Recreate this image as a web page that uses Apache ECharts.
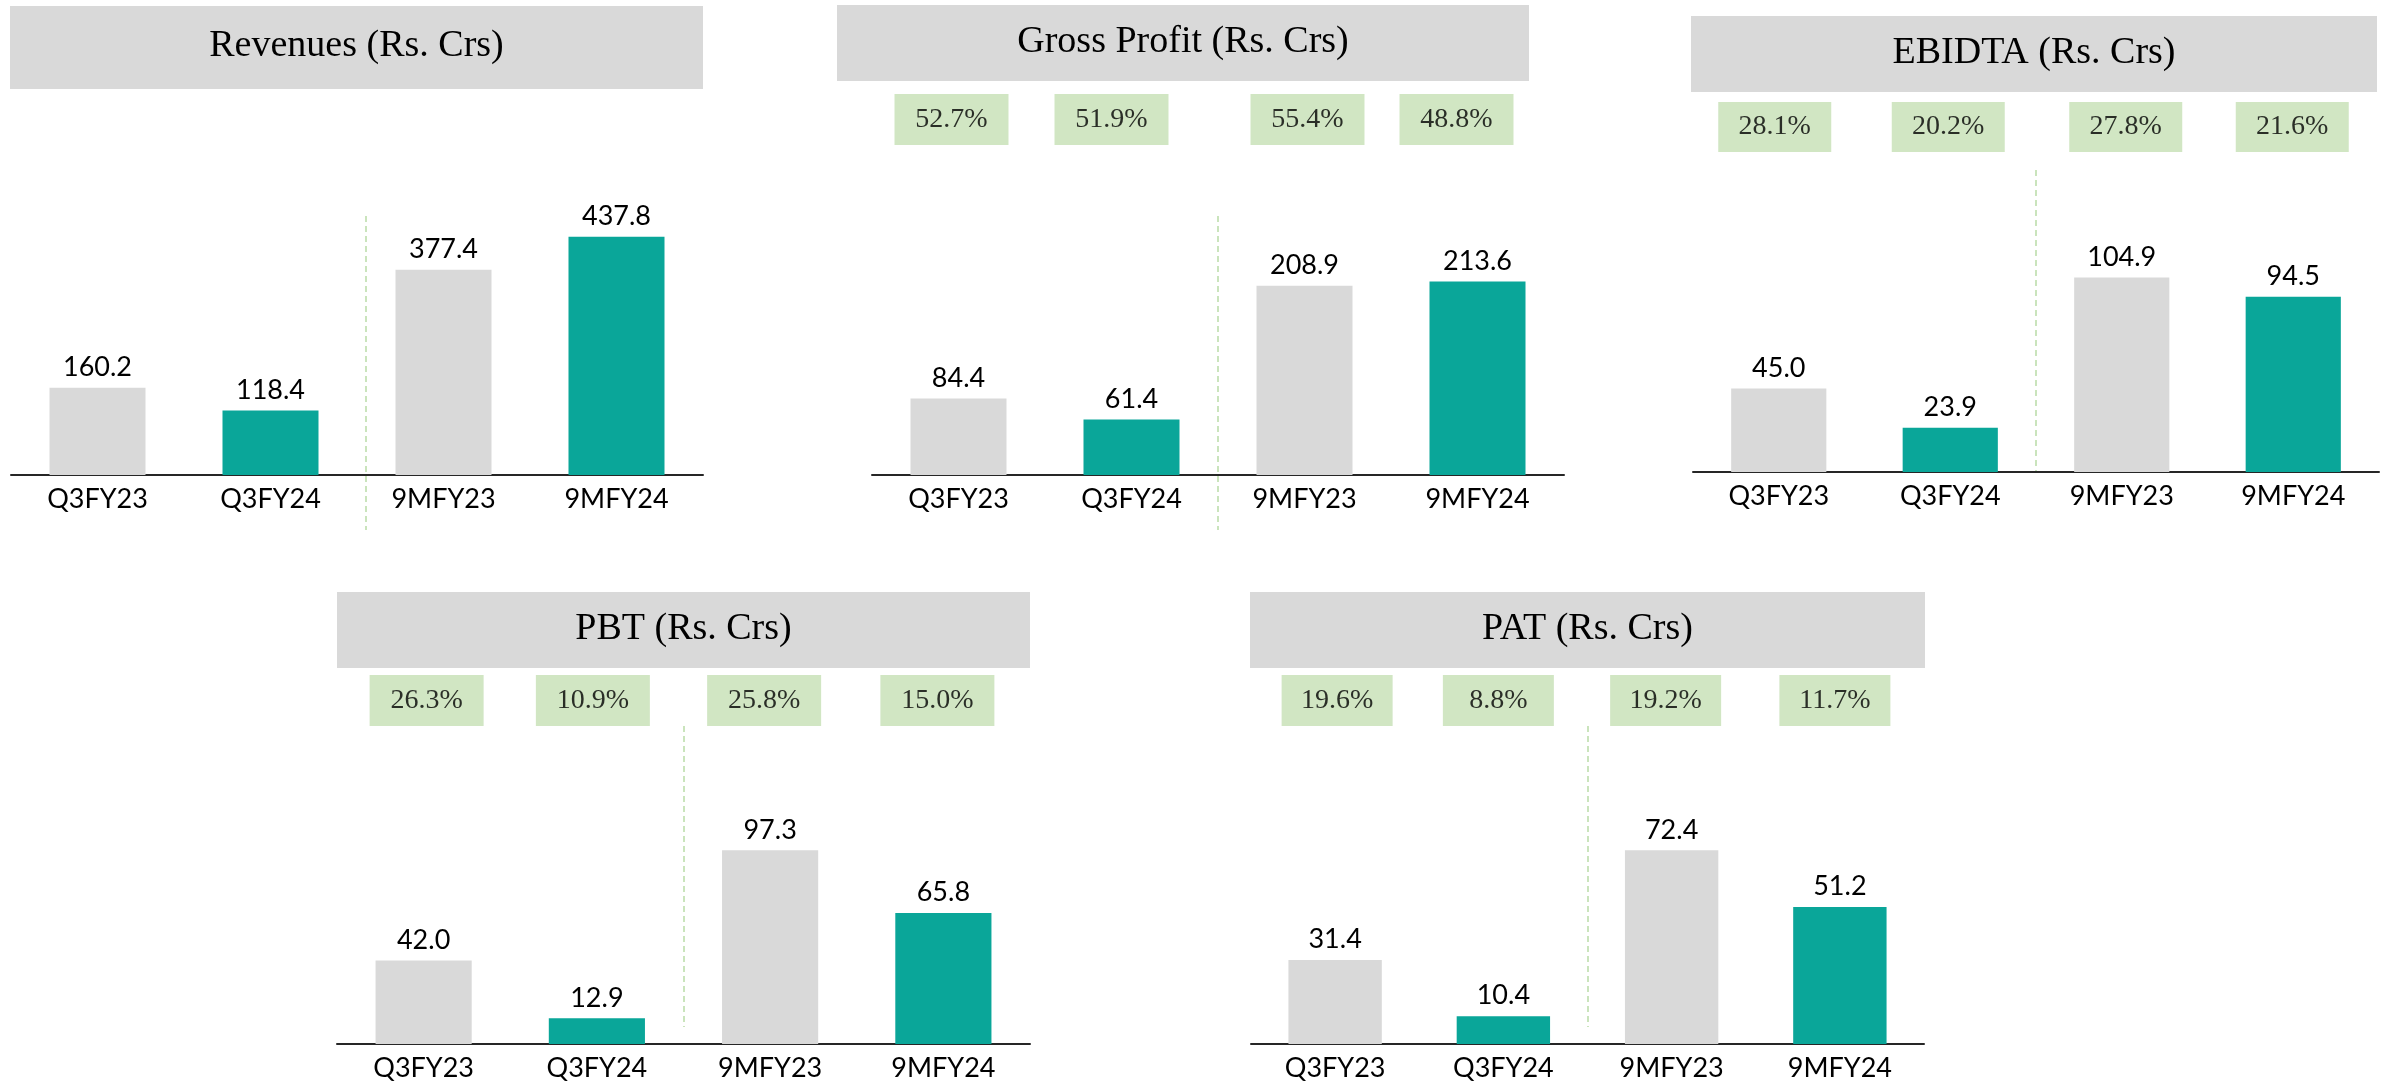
<!DOCTYPE html>
<html>
<head>
<meta charset="utf-8">
<script src="https://cdn.jsdelivr.net/npm/echarts@6.0.0/dist/echarts.min.js"></script>
<style>
html,body{margin:0;padding:0;background:#ffffff;}
#chart{width:2407px;height:1084px;}
</style>
</head>
<body>
<div id="chart"></div>
<script>
// ---------- data ----------
const categories = ['Q3FY23', 'Q3FY24', '9MFY23', '9MFY24'];
const titles = ['Revenues (Rs. Crs)', 'Gross Profit (Rs. Crs)', 'EBIDTA (Rs. Crs)', 'PBT (Rs. Crs)', 'PAT (Rs. Crs)'];
const revenues = [160.2, 118.4, 377.4, 437.8];
const grossProfit = [84.4, 61.4, 208.9, 213.6];
const ebitda = [45.0, 23.9, 104.9, 94.5];
const pbt = [42.0, 12.9, 97.3, 65.8];
const pat = [31.4, 10.4, 72.4, 51.2];
const grossMargin = ['52.7%', '51.9%', '55.4%', '48.8%'];
const ebitdaMargin = ['28.1%', '20.2%', '27.8%', '21.6%'];
const pbtMargin = ['26.3%', '10.9%', '25.8%', '15.0%'];
const patMargin = ['19.6%', '8.8%', '19.2%', '11.7%'];

// ---------- styles ----------
const GRAY = '#d9d9d9';
const TEAL = '#0aa699';
const PCT_BG = '#c5e0b4';
const DIVIDER = '#b9dca6';
const SANS = 'Lato';
const SERIF = '"Liberation Serif"';

// ---------- layout (pixels) ----------
const panels = [
  { title: titles[0], values: revenues, margins: null,
    left: 11, width: 692, top: 216, axisY: 475, yMax: 476,
    divTop: 216, divBottom: 530, divShift: 9, box: [10, 6, 693, 83] },
  { title: titles[1], values: grossProfit, margins: grossMargin,
    left: 872, width: 692, top: 216, axisY: 475, yMax: 286,
    divTop: 216, divBottom: 530, divShift: 0, box: [837, 5, 692, 76],
    pctTop: 94, pctH: 51, pctW: 114, pctShift: [-7, -20, 3, -21] },
  { title: titles[2], values: ebitda, margins: ebitdaMargin,
    left: 1693, width: 686, top: 170, axisY: 472, yMax: 162.8,
    divTop: 170, divBottom: 472, divShift: 0, box: [1691, 16, 686, 76],
    pctTop: 102, pctH: 50, pctW: 113, pctShift: [-4, -2, 4, -1] },
  { title: titles[3], values: pbt, margins: pbtMargin,
    left: 337, width: 693, top: 726, axisY: 1044, yMax: 159.8,
    divTop: 726, divBottom: 1027, divShift: 0, box: [337, 592, 693, 76],
    pctTop: 675, pctH: 51, pctW: 114, pctShift: [3, -4, -6, -6] },
  { title: titles[4], values: pat, margins: patMargin,
    left: 1251, width: 673, top: 726, axisY: 1044, yMax: 118.9,
    divTop: 726, divBottom: 1027, divShift: 0, box: [1250, 592, 675, 76],
    pctTop: 675, pctH: 51, pctW: 111, pctShift: [2, -5, -6, -5] }
];

const grid = [], xAxis = [], yAxis = [], series = [], graphic = [];

panels.forEach(function (p) {
  // title box
  graphic.push({
    type: 'rect', z: 1,
    shape: { x: p.box[0], y: p.box[1], width: p.box[2], height: p.box[3] },
    style: { fill: GRAY }
  });
  graphic.push({
    type: 'text', z: 2,
    x: p.box[0] + p.box[2] / 2, y: p.box[1] + p.box[3] / 2 - 1,
    style: { text: p.title, font: '38px ' + SERIF, fill: '#000000',
             textAlign: 'center', textVerticalAlign: 'middle' }
  });

  // main bar grid
  let gi = grid.length;
  grid.push({ left: p.left, top: p.top, width: p.width, height: p.axisY - p.top });
  xAxis.push({
    gridIndex: gi, type: 'category', data: categories,
    axisLine: { show: true, lineStyle: { color: '#262626', width: 2 } },
    axisTick: { show: false },
    axisLabel: { fontFamily: SANS, fontSize: 27, color: '#000000', margin: 11 },
    splitLine: { show: false }
  });
  yAxis.push({ gridIndex: gi, type: 'value', min: 0, max: p.yMax, show: false, splitLine: { show: false } });
  series.push({
    type: 'bar', xAxisIndex: gi, yAxisIndex: gi, data: p.values,
    barCategoryGap: '44.5%',
    itemStyle: { color: function (d) { return d.dataIndex % 2 ? TEAL : GRAY; } },
    label: {
      show: true, position: 'top', distance: 7,
      fontFamily: SANS, fontSize: 27, color: '#000000',
      formatter: function (d) { return d.value.toFixed(1); }
    }
  });

  // divider grid (dashed line between quarter and nine-month groups)
  gi = grid.length;
  grid.push({ left: p.left + p.divShift, top: p.divTop, width: p.width, height: p.divBottom - p.divTop });
  xAxis.push({
    gridIndex: gi, type: 'category', data: categories,
    axisLine: { show: false }, axisTick: { show: false }, axisLabel: { show: false },
    splitLine: { show: true, interval: 1, showMinLine: false, showMaxLine: false,
                 lineStyle: { color: DIVIDER, width: 1.5, type: [6, 4] } }
  });
  yAxis.push({ gridIndex: gi, type: 'value', min: 0, max: 1, show: false, splitLine: { show: false } });

  // margin boxes
  if (p.margins) {
    gi = grid.length;
    grid.push({ left: p.left, top: p.pctTop, width: p.width, height: p.pctH });
    xAxis.push({ gridIndex: gi, type: 'category', data: categories, show: false });
    yAxis.push({ gridIndex: gi, type: 'value', min: 0, max: 1, show: false, splitLine: { show: false } });
    const labels = p.margins;
    const shifts = p.pctShift;
    series.push({
      type: 'scatter', xAxisIndex: gi, yAxisIndex: gi,
      data: labels.map(function (m, i) { return { value: 0.5, label: { offset: [shifts[i], 0] } }; }),
      symbolSize: 1, itemStyle: { color: 'rgba(0,0,0,0)' },
      label: {
        show: true, position: 'inside',
        width: p.pctW, height: p.pctH, lineHeight: p.pctH,
        backgroundColor: PCT_BG, padding: 0,
        align: 'center', verticalAlign: 'middle',
        fontFamily: SERIF, fontSize: 28, color: '#000000',
        formatter: function (d) { return labels[d.dataIndex]; }
      }
    });
  }
});

const chart = echarts.init(document.getElementById('chart'), null, { renderer: 'canvas' });
chart.setOption({
  animation: false,
  backgroundColor: '#ffffff',
  grid: grid, xAxis: xAxis, yAxis: yAxis, series: series, graphic: graphic
});
</script>
</body>
</html>
